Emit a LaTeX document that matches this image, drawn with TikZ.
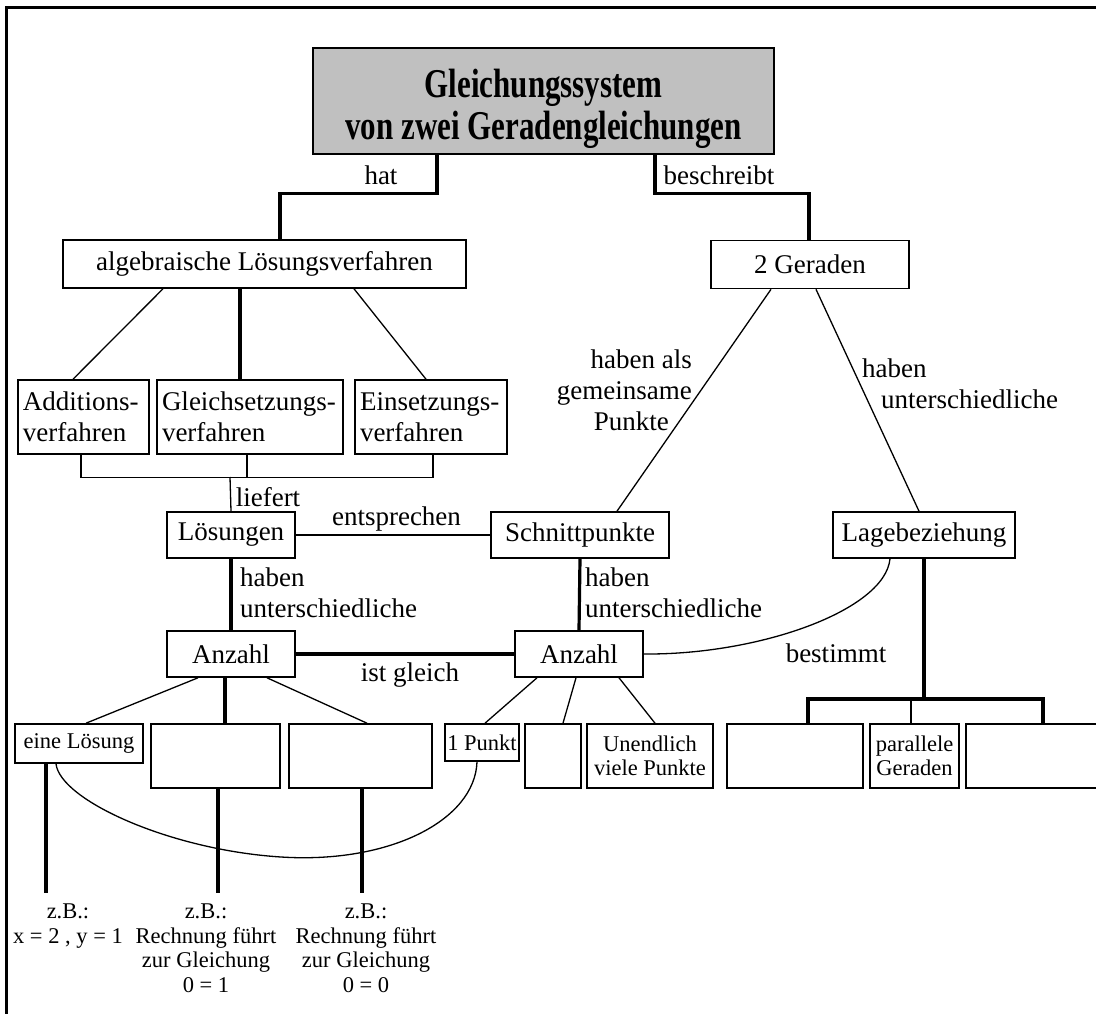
\documentclass[tikz,border=0pt]{standalone}
\usepackage{fontspec}
\setmainfont{Liberation Serif}
\usepackage{graphicx}
\newcommand{\grossschrift}{\fontsize{27}{31}\selectfont}
\newcommand{\kleinschrift}{\fontsize{22.5}{24.5}\selectfont}
\definecolor{titelgrau}{HTML}{C0C0C0}

\begin{document}
\begin{tikzpicture}[x=1pt,y=-1pt,
    kasten/.style={draw,line width=1.6pt,inner sep=0pt,font=\grossschrift},
    kleinkasten/.style={kasten,font=\kleinschrift,align=center},
    zweizeiler/.style={kasten,align=left,inner xsep=5pt,minimum height=74},
    beschr/.style={font=\grossschrift,inner sep=0pt},
    kleinbeschr/.style={font=\kleinschrift,inner sep=0pt,align=center,anchor=north},
    fett/.style={line width=3.2pt},
    duenn/.style={line width=1.3pt}]
                    \useasboundingbox(0,0)rectangle(1096,1014);
                    \clip(0,0)rectangle(1096,1014);
                    \draw[line width=3pt](6,1030)--(6,8)--(1110,8);
                    \node[kasten,fill=titelgrau,minimum width=461,minimum height=106](titel)at(543.5,101)
                        {\raisebox{-17pt}[0pt][0pt]{\scalebox{1}[1.32]{\fontsize{31}{32}\bfseries\begin{tabular}{@{}c@{}}Gleichungssystem\\von zwei Geradengleichungen\end{tabular}}}};
                    \node[kasten,minimum width=403,minimum height=48](alg)at(264.5,264){algebraische Lösungsverfahren};
                    \node[kasten,minimum width=198,minimum height=48](geraden)at(810,264.5){2 Geraden};
                    \node[zweizeiler,text width=121](add)at(83.5,417){Additions-\\verfahren};
                    \node[zweizeiler,text width=176](gleich)at(250,417){Gleichsetzungs-\\verfahren};
                    \node[zweizeiler,text width=142](einsetz)at(431,417){Einsetzungs-\\verfahren};
                    \node[kasten,minimum width=128,minimum height=46](loes)at(231,535){Lösungen};
                    \node[kasten,minimum width=178,minimum height=46](schnitt)at(580,535){Schnittpunkte};
                    \node[kasten,minimum width=182,minimum height=46](lage)at(924,535){Lagebeziehung};
                    \node[kasten,minimum width=128,minimum height=46](anzL)at(231,654){Anzahl};
                    \node[kasten,minimum width=128,minimum height=46](anzR)at(579,654){Anzahl};
                    \node[kleinkasten,minimum width=128,minimum height=39](eine)at(79,743.5){eine Lösung};
                    \node[kasten,minimum width=129,minimum height=64](leerA)at(215.5,756){};
                    \node[kasten,minimum width=143,minimum height=64](leerB)at(360.5,756){};
                    \node[kleinkasten,minimum width=74,minimum height=37](punkt)at(482,742.5){1 Punkt};
                    \node[kasten,minimum width=56,minimum height=64](leerC)at(553,756){};
                    \node[kleinkasten,minimum width=126,minimum height=64](unendl)at(650,756){Unendlich\\viele Punkte};
                    \node[kasten,minimum width=136,minimum height=64](lageA)at(795,756){};
                    \node[kleinkasten,minimum width=89,minimum height=64](parallel)at(914.5,756){parallele\\Geraden};
                    \node[kasten,minimum width=154,minimum height=64](lageC)at(1043,756){};
                    \coordinate(liefert)at(230,477);
                    \coordinate(gabel)at(924,699);
                    \coordinate(bspA)at(46,893);
                    \coordinate(bspB)at(218,893);
                    \coordinate(bspC)at(362,893);
                    \draw[fett]([xshift=-106.5]titel.south)--++(0,39)-|([xshift=15.5]alg.north);
                    \draw[fett]([xshift=111.5]titel.south)--++(0,39)-|([xshift=-1]geraden.north);
                    \draw[duenn]([xshift=-101.5]alg.south)--([xshift=-10.5]add.north);
                    \draw[fett]([xshift=-24.5]alg.south)--([xshift=-10]gleich.north);
                    \draw[duenn]([xshift=89.5]alg.south)--([xshift=-5]einsetz.north);
                    \draw[duenn]([xshift=-2.5]add.south)--++(0,23)-|([xshift=2]einsetz.south);
                    \draw[duenn]([xshift=-3]gleich.south)--++(0,23);
                    \draw[duenn](liefert)--(loes.north);
                    \draw[duenn](loes.east)--(schnitt.west);
                    \draw[fett](loes.south)--(anzL.north);
                    \draw[fett](schnitt.south)--(anzR.north);
                    \draw[fett](anzL.east)--(anzR.west);
                    \draw[duenn]([xshift=-39]geraden.south)--([xshift=37]schnitt.north);
                    \draw[duenn]([xshift=6]geraden.south)--([xshift=-5]lage.north);
                    \draw[duenn]([xshift=-33]anzL.south)--([xshift=7]eine.north);
                    \draw[fett]([xshift=-6]anzL.south)--([xshift=9.5]leerA.north);
                    \draw[duenn]([xshift=36]anzL.south)--([xshift=6.5]leerB.north);
                    \draw[duenn]([xshift=-42]anzR.south)--([xshift=3]punkt.north);
                    \draw[duenn]([xshift=-3]anzR.south)--([xshift=10]leerC.north);
                    \draw[duenn]([xshift=40]anzR.south)--([xshift=5]unendl.north);
                    \draw[duenn](anzR.east)..controls(760,655)and(885,610)..([xshift=-34]lage.south);
                    \draw[fett](lage.south)--(gabel);
                    \draw[fett]([xshift=13]lageA.north)|-(gabel)-|(lageC.north);
                    \draw[duenn]([xshift=-3.5]parallel.north)--([xshift=-3.5]parallel.north|-gabel);
                    \draw[duenn]([xshift=-23]eine.south)..controls(60,800)and(170,850)..(281,857)
                        ..controls(390,864)and(475,820)..([xshift=-5]punkt.south);
                    \draw[fett]([xshift=-33]eine.south)--(bspA);
                    \draw[fett]([xshift=2.5]leerA.south)--(bspB);
                    \draw[fett]([xshift=1.5]leerB.south)--(bspC);
                    \node[beschr](hat)at(381,175){hat};
                    \node[beschr](beschreibt)at(719,175){beschreibt};
                    \node[beschr](liefertText)at(268,497){liefert};
                    \node[beschr](entsprechen)at(396.5,519){entsprechen};
                    \node[beschr,align=left,anchor=west](unterschiedL)at(240,592.5){haben\\unterschiedliche};
                    \node[beschr,align=left,anchor=west](unterschiedM)at(585,592.5){haben\\unterschiedliche};
                    \node[beschr](istgleich)at(410,675){ist gleich};
                    \node[beschr](bestimmt)at(836,653){bestimmt};
                    \node[beschr,align=right,anchor=east](gemeinsam)at(692,390){haben als\\gemeinsame\hspace*{6pt}\\Punkte\hspace*{23pt}};
                    \node[beschr,align=left,anchor=west](unterschiedR)at(862,383.5){haben\\\hspace*{19pt}unterschiedliche};
                    \node[kleinbeschr](bspEins)at(68,904){z.B.:\\x = 2 , y = 1};
                    \node[kleinbeschr](bspZwei)at(206,904){z.B.:\\Rechnung führt\\zur Gleichung\\0 = 1};
                    \node[kleinbeschr](bspDrei)at(366,904){z.B.:\\Rechnung führt\\zur Gleichung\\0 = 0};
                \end{tikzpicture}
\end{document}
